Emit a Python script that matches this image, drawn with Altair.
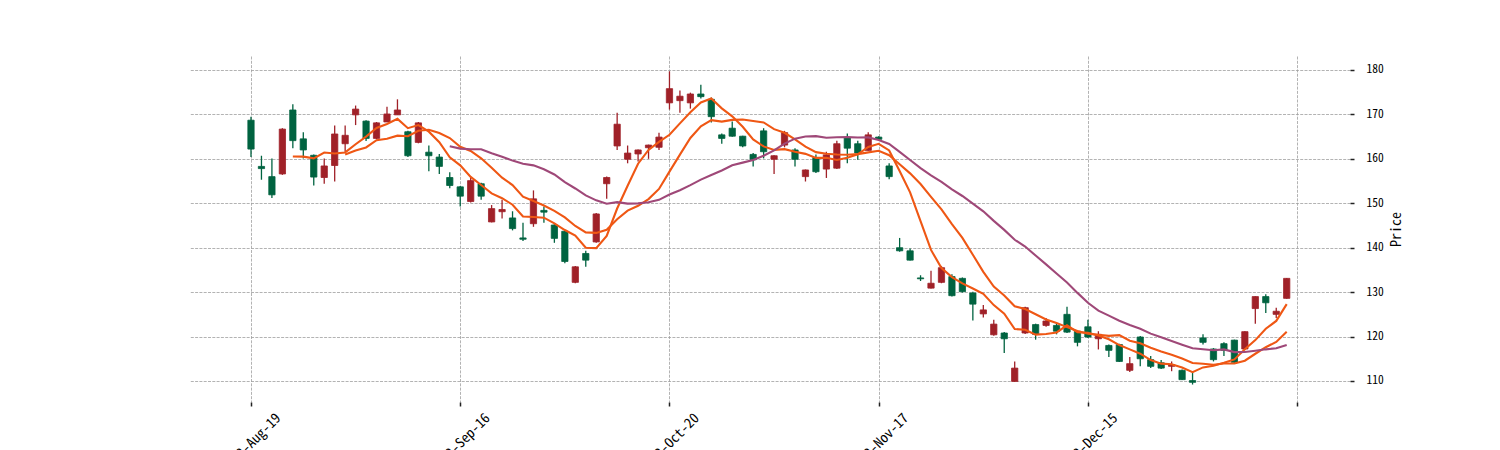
import altair as alt
import pandas as pd
import numpy as np

# ---- data (index, open, high, low, close) ----
opens = [168.7, 158.3, 156.0, 156.6, 171.0, 164.5, 160.8, 155.8, 158.5, 163.4,
         169.9, 168.5, 164.6, 168.3, 169.9, 166.1, 163.7, 161.5, 160.4, 155.8,
         153.7, 150.4, 154.4, 145.8, 148.1, 146.7, 142.2, 145.4, 148.4, 145.1,
         143.7, 132.2, 138.7, 141.3, 154.4, 162.9, 159.9, 161.1, 162.5, 162.6,
         172.6, 173.1, 172.6, 174.6, 173.4, 165.4, 166.9, 165.1, 161.0, 166.3,
         159.9, 163.1, 162.0, 156.0, 160.3, 157.7, 157.9, 164.8, 163.4, 161.9,
         164.9, 158.4, 140.0, 139.3, 133.2, 130.9, 132.2, 133.5, 133.1, 129.8,
         125.1, 120.4, 120.8, 109.9, 120.8, 122.7, 122.5, 122.5, 125.0, 121.2,
         122.2, 119.5, 118.0, 118.2, 112.4, 119.9, 114.8, 114.1, 113.3, 112.4,
         110.1, 119.7, 117.2, 118.4, 119.2, 117.2, 126.3, 129.0, 125.0, 128.6]
highs = [169.5, 160.7, 160.1, 166.9, 172.3, 166.0, 161.0, 160.1, 167.5, 167.5,
         172.0, 168.7, 168.3, 171.7, 173.4, 166.3, 168.3, 163.0, 161.1, 157.0,
         153.9, 155.7, 154.6, 149.6, 150.8, 148.2, 145.6, 152.9, 149.3, 145.3,
         143.9, 135.9, 139.3, 147.8, 156.0, 170.4, 163.0, 162.1, 163.2, 165.9,
         179.7, 175.4, 174.9, 176.7, 173.8, 165.7, 168.4, 165.2, 161.3, 166.9,
         160.8, 166.3, 162.4, 157.6, 161.0, 161.6, 164.1, 165.7, 164.1, 166.0,
         165.1, 159.0, 142.2, 139.8, 133.8, 134.8, 135.9, 134.0, 133.3, 130.1,
         127.1, 123.8, 121.0, 114.4, 126.7, 122.9, 124.2, 122.9, 126.7, 121.3,
         123.8, 121.2, 118.2, 118.4, 115.4, 120.1, 115.6, 114.7, 114.4, 112.6,
         112.0, 120.5, 117.4, 118.7, 119.3, 121.2, 129.1, 129.5, 126.5, 133.2]
lows = [160.4, 155.3, 151.2, 156.4, 162.4, 160.1, 154.0, 154.4, 154.9, 161.6,
        167.6, 164.0, 164.4, 168.3, 169.9, 160.4, 163.5, 157.2, 156.6, 153.4,
        149.3, 150.2, 150.8, 145.7, 146.6, 143.9, 141.5, 144.7, 145.6, 141.1,
        136.5, 132.0, 135.7, 141.1, 151.0, 162.0, 159.0, 159.4, 160.0, 162.0,
        171.1, 170.4, 171.3, 173.6, 168.2, 163.4, 165.0, 162.6, 158.3, 160.1,
        156.6, 162.6, 158.3, 154.9, 156.8, 155.7, 157.7, 159.0, 159.8, 161.8,
        164.3, 155.4, 139.1, 137.1, 132.5, 130.8, 132.0, 129.0, 129.9, 123.6,
        124.3, 120.2, 116.3, 109.8, 120.6, 119.3, 122.2, 120.5, 120.8, 117.8,
        119.7, 117.1, 115.4, 114.3, 112.0, 113.3, 112.9, 112.7, 112.2, 110.2,
        109.2, 118.2, 114.4, 115.6, 114.1, 117.0, 122.9, 125.3, 124.2, 128.5]
closes = [162.2, 157.8, 151.9, 166.7, 164.1, 162.0, 155.9, 158.4, 165.6, 165.3,
          171.2, 164.6, 168.1, 170.1, 171.0, 160.7, 168.1, 160.7, 158.3, 154.0,
          151.6, 155.1, 151.6, 148.8, 148.6, 144.3, 141.9, 151.0, 148.0, 142.1,
          136.9, 135.7, 137.2, 147.6, 155.8, 167.8, 161.3, 162.0, 163.1, 164.9,
          175.8, 174.1, 174.6, 174.0, 169.5, 164.6, 165.1, 162.9, 159.8, 161.6,
          160.7, 165.9, 159.9, 157.5, 157.1, 160.9, 163.4, 162.4, 161.3, 165.4,
          164.4, 156.0, 139.3, 137.2, 133.0, 132.0, 135.5, 129.2, 130.1, 127.3,
          126.0, 122.8, 119.5, 112.9, 126.5, 120.5, 123.5, 121.2, 121.0, 118.7,
          119.9, 120.5, 116.9, 114.4, 113.9, 115.0, 113.3, 112.9, 113.7, 110.3,
          109.7, 118.7, 114.8, 116.9, 114.2, 121.1, 129.0, 127.6, 125.7, 133.1]

tick_index = [0, 20, 40, 60, 80, 100]
tick_labels = ["2022-Aug-19", "2022-Sep-16", "2022-Oct-20", "2022-Nov-17", "2022-Dec-15", ""]
y_ticks = [110, 120, 130, 140, 150, 160, 170, 180]
ma_windows = [5, 10, 20]
ma_colors = ["#ef5714", "#ef5714", "#9f4878"]
up_color, down_color = "#a02128", "#006340"

df = pd.DataFrame({"i": list(range(len(closes))), "open": opens, "high": highs,
                   "low": lows, "close": closes})
df["dir"] = np.where(df["close"] >= df["open"], "up", "down")

ma_frames = []
for w in ma_windows:
    m = pd.DataFrame({"i": df["i"], "ma": df["close"].rolling(w).mean(), "name": f"MA{w}"})
    ma_frames.append(m.dropna())
ma_df = pd.concat(ma_frames)

FONT = "Noto Sans Mono CJK SC"

label_expr = " : ".join(
    [f"datum.value == {v} ? '{t}'" for v, t in zip(tick_index, tick_labels)]) + " : ''"

xscale = alt.Scale(domain=[-5.83, 105.05], nice=False, zero=False)
yscale = alt.Scale(domain=[105.27, 183.15], nice=False, zero=False)
dir_scale = alt.Scale(domain=["up", "down"], range=[up_color, down_color])

x_axis = alt.Axis(values=tick_index, labelExpr=label_expr, grid=True, gridDash=[3, 1.3],
                  gridColor="#a0a0a0", gridWidth=0.8, domain=False, ticks=True,
                  tickColor="#222222", tickSize=4, tickWidth=1.5, labelAngle=-45,
                  labelAlign="center", labelBaseline="middle", labelPadding=37,
                  labelFont=FONT, labelFontSize=14, labelColor="#000000", title=None,
                  labelFlush=False, labelOverlap=False)
y_axis = alt.Axis(orient="right", values=y_ticks, grid=True, gridDash=[3, 1.3],
                  gridColor="#a0a0a0", gridWidth=0.8, domain=False, ticks=True,
                  tickColor="#222222", tickSize=4, tickWidth=1.5, labelPadding=12,
                  labelFont=FONT, labelFontSize=11.5, labelColor="#000000",
                  title="Price", titleFont=FONT, titleFontSize=14, titleFontWeight="normal",
                  titleColor="#000000", titleAngle=270, titleBaseline="top",
                  titlePadding=6)

base = alt.Chart(df)

wicks = base.mark_rule(strokeWidth=1.3).encode(
    x=alt.X("i:Q", scale=xscale, axis=x_axis),
    y=alt.Y("low:Q", scale=yscale, axis=y_axis),
    y2="high:Q",
    color=alt.Color("dir:N", scale=dir_scale, legend=None),
)

bodies = base.transform_calculate(
    x0="datum.i - 0.3", x1="datum.i + 0.3"
).mark_rect(strokeWidth=0.8).encode(
    x=alt.X("x0:Q", scale=xscale, axis=x_axis),
    x2="x1:Q",
    y=alt.Y("open:Q", scale=yscale, axis=y_axis),
    y2="close:Q",
    color=alt.Color("dir:N", scale=dir_scale, legend=None),
    stroke=alt.Stroke("dir:N", scale=dir_scale, legend=None),
)

lines = []
for w, c in zip(ma_windows, ma_colors):
    lines.append(
        alt.Chart(ma_df).transform_filter(f"datum.name == 'MA{w}'").mark_line(
            color=c, strokeWidth=2.1
        ).encode(
            x=alt.X("i:Q", scale=xscale, axis=x_axis),
            y=alt.Y("ma:Q", scale=yscale, axis=y_axis),
        )
    )

chart = alt.layer(wicks, bodies, *lines).properties(
    width=1160, height=346,
    autosize=alt.AutoSizeParams(type="none"),
    padding={"left": 190, "top": 56, "right": 150, "bottom": 48},
    background="white",
).configure_view(strokeWidth=0)

chart.save("out.html", embed_options={"renderer": "svg", "actions": False})
